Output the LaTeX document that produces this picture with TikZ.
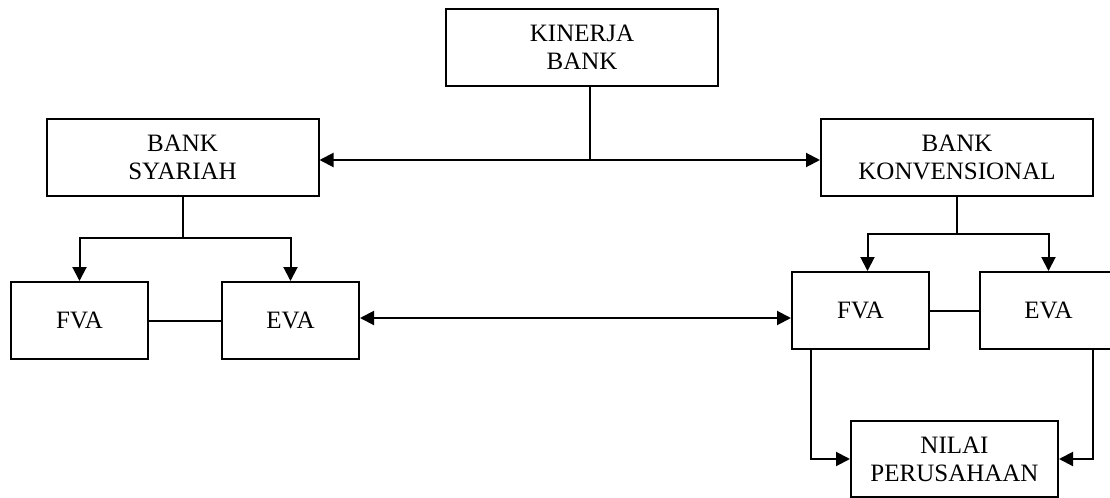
\documentclass[tikz,border=0pt]{standalone}
\usepackage{fontspec}
\setmainfont{Liberation Serif}
\usetikzlibrary{arrows.meta}

\begin{document}
\begin{tikzpicture}[x=0.5pt,y=-0.5pt]
\tikzstyle{box}=[draw,line width=1pt,align=center,inner sep=0pt,minimum height=38.5pt,font=\fontsize{12.5}{14}\selectfont]
\tikzstyle{wide}=[box,minimum width=136pt]
\tikzstyle{small}=[box,minimum width=68.5pt]
\tikzstyle{link}=[draw,line width=1pt]
\tikzstyle{arrow}=[link,-{Triangle[length=7pt,width=7pt]}]
\tikzstyle{twoway}=[link,{Triangle[length=7pt,width=7pt]}-{Triangle[length=7pt,width=7pt]}]
\clip (0,0) rectangle (1110,498);
\node[wide] (kinerja) at (582,47.5) {KINERJA\\BANK};
\node[wide] (syariah) at (182.5,157.5) {BANK\\SYARIAH};
\node[wide] (konv) at (957,157.5) {BANK\\KONVENSIONAL};
\node[small] (fvaS) at (79.5,320.5) {FVA};
\node[small] (evaS) at (290.5,320.5) {EVA};
\node[small] (fvaK) at (860.5,310.5) {FVA};
\node[small] (evaK) at (1048.5,310.5) {EVA};
\node[box,minimum width=103.5pt,minimum height=38pt] (nilai) at (954.5,459) {NILAI\\PERUSAHAAN};
% kinerja bank ke dua jenis bank
\coordinate (hub) at (590,160);
\path[link] (kinerja.south -| hub) -- (hub);
\path[arrow] (hub) -- (hub -| syariah.east);
\path[arrow] (hub) -- (hub -| konv.west);
% bank syariah
\coordinate (splitS) at (182.5,238);
\path[link] (syariah.south) -- (splitS);
\path[arrow] (splitS) -| (fvaS.north);
\path[arrow] (splitS) -| (evaS.north);
\path[link] (fvaS.east) -- (evaS.west);
% bank konvensional
\coordinate (splitK) at (957,234);
\path[link] (konv.south) -- (splitK);
\path[arrow] (splitK) -| ([xshift=3.5pt]fvaK.north);
\path[arrow] (splitK) -| (evaK.north);
\path[link] (fvaK.east) -- (evaK.west);
% perbandingan
\path[twoway] ([yshift=1.25pt]evaS.east) -- ([yshift=1.25pt]evaS.east -| fvaK.west);
% nilai perusahaan
\path[arrow] ([xshift=-25pt]fvaK.south) |- (nilai.west);
\path[arrow] ([xshift=22.25pt]evaK.south) |- (nilai.east);
\end{tikzpicture}
\end{document}
